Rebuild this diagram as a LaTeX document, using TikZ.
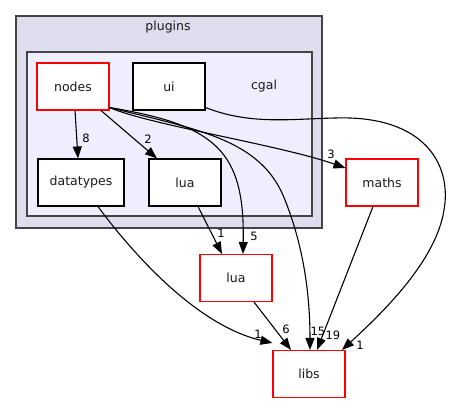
\documentclass[tikz,border=0pt]{standalone}
\usepackage{fontspec}
\setmainfont{DejaVu Sans}
\usetikzlibrary{arrows.meta}
\definecolor{outerfill}{HTML}{DDDDEE}
\definecolor{innerfill}{HTML}{EEEEFF}
\definecolor{clborder}{HTML}{444444}
\definecolor{txt}{HTML}{1A1A1A}
\begin{document}
\begin{tikzpicture}[x=1pt,y=-1pt,
  cluster/.style={draw=clborder,line width=1.6pt},
  dirbox/.style={draw=black,fill=white,line width=1.05pt,minimum width=72pt,minimum height=47pt,inner sep=0pt,font=\fontsize{12.5}{14}\selectfont,text=txt},
  reddir/.style={dirbox,draw=red},
  edge/.style={line width=1.1pt,-{Triangle[length=12pt,width=9pt]}},
  elabel/.style={font=\fontsize{11.5}{12}\selectfont,text=black,inner sep=0pt}]
\useasboundingbox (0,0) rectangle (451,404);
\fill[white] (0,0) rectangle (451,404);
% clusters
\draw[cluster,fill=outerfill] (16,16) rectangle (322,228);
\node[font=\fontsize{12.5}{14}\selectfont,text=txt] (plugins) at (168,27) {plugins};
\draw[cluster,fill=innerfill] (27,52) rectangle (312,216);
\node[font=\fontsize{12.5}{14}\selectfont,text=txt] (cgal) at (264,86) {cgal};
% nodes
\node[reddir] (nodes) at (73,86.5) {nodes};
\node[dirbox] (ui) at (169,86.5) {ui};
\node[dirbox,minimum width=86pt] (datatypes) at (81,182.5) {datatypes};
\node[dirbox] (luain) at (185,182.5) {lua};
\node[reddir] (maths) at (382,182.5) {maths};
\node[reddir] (luaout) at (236,278) {lua};
\node[reddir] (libs) at (309,374) {libs};
% edges
\draw[edge] ([xshift=2pt]nodes.south) -- ([xshift=-3pt]datatypes.north);
\node[elabel] (l8) at (86,138) {8};
\draw[edge] ([xshift=28pt]nodes.south) -- ([xshift=-28pt]luain.north);
\node[elabel] (l2) at (148,139) {2};
\draw[edge] (nodes.south east) ++(0,-3) .. controls (150,125) and (280,145) .. (maths.west |- 0,168);
\node[elabel] (l3) at (331,154) {3};
\draw[edge] (nodes.south east) ++(0,-3) .. controls (215,125) and (245,150) .. ([xshift=7pt]luaout.north);
\node[elabel] (l5) at (254,236) {5};
\draw[edge] (nodes.south east) ++(0,-3) .. controls (200,130) and (262,140) .. (285,200) .. controls (305,250) and (310,300) .. ([xshift=1pt]libs.north);
\node[elabel] (l15) at (318,331) {15};
\draw[edge] (ui.south east) ++(0,-3) .. controls (250,125) and (290,119) .. (335,118) .. controls (425,115) and (452,165) .. (444,210) .. controls (436,262) and (380,315) .. ([xshift=33pt]libs.north);
\node[elabel] (l1u) at (360,345) {1};
\draw[edge] (luain.south) ++(13,0) -- ([xshift=-14pt]luaout.north);
\node[elabel] (l1l) at (221,233) {1};
\draw[edge] ([xshift=17pt]datatypes.south) .. controls (130,250) and (195,325) .. ([yshift=7pt]libs.north west);
\node[elabel] (l1d) at (258,334) {1};
\draw[edge] ([xshift=18pt]luaout.south) -- ([xshift=-18pt]libs.north);
\node[elabel] (l6) at (286,329) {6};
\draw[edge] ([xshift=-9pt]maths.south) -- ([xshift=8pt]libs.north);
\node[elabel] (l19) at (333,335) {19};
\end{tikzpicture}
\end{document}
